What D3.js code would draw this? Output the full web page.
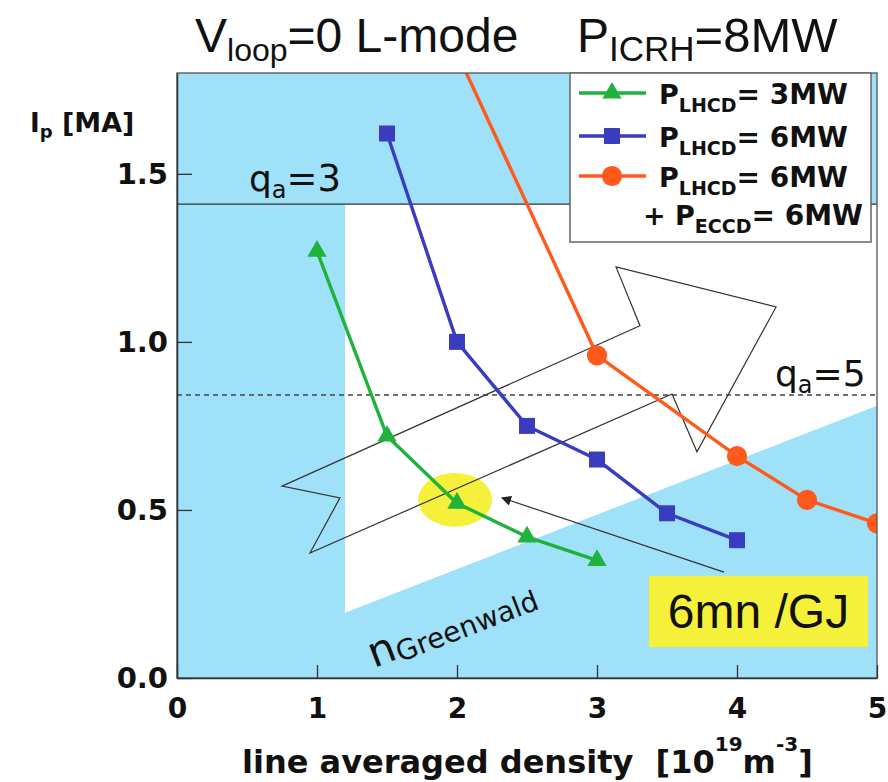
<!DOCTYPE html>
<html>
<head>
<meta charset="utf-8">
<script src="https://d3js.org/d3.v7.min.js"></script>
<style>
  body { margin: 0; background: #fff; }
  svg { display: block; }
  text { white-space: pre; }
</style>
</head>
<body>
<svg id="chart" width="888" height="782"></svg>
<script>
// data: line averaged density (1e19 m^-3) vs Ip (MA)
const lh3Density = [1, 1.5, 2, 2.5, 3];
const lh3Ip = [1.27, 0.72, 0.52, 0.42, 0.35];
const lh6Density = [1.5, 2, 2.5, 3, 3.5, 4];
const lh6Ip = [1.62, 1.0, 0.75, 0.65, 0.49, 0.41];
const ecDensity = [2, 3, 4, 4.5, 5];
const ecIp = [1.86, 0.96, 0.66, 0.53, 0.46];
const xTicks = [0, 1, 2, 3, 4, 5];
const yTicks = [0, 0.5, 1.0, 1.5];

// operating window limits
const qa3Ip = 1.41;
const qa5Ip = 0.842;
const greenwaldSlope = 0.162;   // Ip = slope * n
const windowMinDensity = 1.2;

// big outlined arrow (data units)
const arrowX = [0.75, 3.307, 3.136, 4.279, 3.714, 3.536, 0.95, 1.164];
const arrowY = [0.571, 1.048, 1.223, 1.104, 0.673, 0.845, 0.372, 0.536];

const svg = d3.select("#chart");
const pL = 177, pR = 877, pT = 73, pB = 678;
const x = d3.scaleLinear().domain([0, 5]).range([pL, pR]);
const y = d3.scaleLinear().domain([0, 1.8]).range([pB, pT]);

const sky = "#9fe1f8", yellow = "#f5f03a";
const cols = { g: "#1fb23c", b: "#3a3cc0", o: "#ff5a1c" };

svg.append("clipPath").attr("id", "plotclip")
  .append("rect").attr("x", pL).attr("y", pT)
  .attr("width", pR - pL).attr("height", pB - pT);

const plot = svg.append("g").attr("clip-path", "url(#plotclip)");

plot.append("rect").attr("x", pL).attr("y", pT)
  .attr("width", pR - pL).attr("height", pB - pT)
  .attr("fill", sky);

// allowed region (white)
const win = [[windowMinDensity, qa3Ip], [5, qa3Ip], [5, greenwaldSlope * 5],
             [windowMinDensity, greenwaldSlope * windowMinDensity]];
plot.append("path")
  .attr("d", d3.line().x(d => x(d[0])).y(d => y(d[1]))(win) + "Z")
  .attr("fill", "#fff");

// highlight ellipse
plot.append("ellipse")
  .attr("cx", x(1.986)).attr("cy", y(0.53))
  .attr("rx", x(0.264) - x(0)).attr("ry", y(0) - y(0.08))
  .attr("fill", yellow);

plot.append("line")
  .attr("x1", x(0)).attr("x2", x(5)).attr("y1", y(qa3Ip)).attr("y2", y(qa3Ip))
  .attr("stroke", "#333").attr("stroke-width", 1.3);
plot.append("line")
  .attr("x1", x(0)).attr("x2", x(5)).attr("y1", y(qa5Ip)).attr("y2", y(qa5Ip))
  .attr("stroke", "#444").attr("stroke-width", 1.3).attr("stroke-dasharray", "5,4");

plot.append("path")
  .attr("d", d3.line().x((d, i) => x(d)).y((d, i) => y(arrowY[i]))(arrowX) + "Z")
  .attr("fill", "none").attr("stroke", "#333").attr("stroke-width", 1.2);

// small pointer arrow
svg.append("defs").append("marker")
  .attr("id", "head").attr("viewBox", "0 0 10 10").attr("refX", 9).attr("refY", 5)
  .attr("markerWidth", 12).attr("markerHeight", 10).attr("markerUnits", "userSpaceOnUse")
  .attr("orient", "auto")
  .append("path").attr("d", "M0,0L10,5L0,10Z").attr("fill", "#222");
plot.append("line")
  .attr("x1", x(3.907)).attr("y1", y(0.315)).attr("x2", x(2.321)).attr("y2", y(0.536))
  .attr("stroke", "#333").attr("stroke-width", 1.2).attr("marker-end", "url(#head)");

const line = d3.line().x(d => x(d[0])).y(d => y(d[1]));
const series = [
  { xs: lh3Density, ys: lh3Ip, c: cols.g, sym: d3.symbolTriangle, size: 160 },
  { xs: lh6Density, ys: lh6Ip, c: cols.b, sym: d3.symbolSquare, size: 256 },
  { xs: ecDensity, ys: ecIp, c: cols.o, sym: d3.symbolCircle, size: 320 }
];
series.forEach(s => {
  const pts = s.xs.map((v, i) => [v, s.ys[i]]);
  plot.append("path").attr("d", line(pts))
    .attr("fill", "none").attr("stroke", s.c).attr("stroke-width", 3.4);
  plot.selectAll(null).data(pts).enter().append("path")
    .attr("transform", d => "translate(" + x(d[0]) + "," + y(d[1]) + ")")
    .attr("d", d3.symbol().type(s.sym).size(s.size))
    .attr("fill", s.c);
});

// 6mn /GJ box
plot.append("rect")
  .attr("x", x(3.371)).attr("y", y(0.304))
  .attr("width", x(4.936) - x(3.371)).attr("height", y(0.092) - y(0.304))
  .attr("fill", yellow);
svg.append("text").attr("x", (x(3.371) + x(4.936)) / 2).attr("y", y(0.198) + 17)
  .attr("text-anchor", "middle")
  .style("font", "48px 'Liberation Sans', Arial, sans-serif").attr("fill", "#111")
  .text("6mn /GJ");

// frame
svg.append("rect").attr("x", pL).attr("y", pT)
  .attr("width", pR - pL).attr("height", pB - pT)
  .attr("fill", "none").attr("stroke", "#555").attr("stroke-width", 1.3);

// axes, ticks point into the plot
const yAxis = svg.append("g").attr("transform", "translate(" + pL + ",0)")
  .call(d3.axisLeft(y).tickValues(yTicks).tickFormat(d3.format(".1f"))
    .tickSizeInner(-15).tickSizeOuter(0).tickPadding(9));
const xAxis = svg.append("g").attr("transform", "translate(0," + pB + ")")
  .call(d3.axisBottom(x).tickValues(xTicks).tickFormat(d3.format("d"))
    .tickSizeInner(-13).tickSizeOuter(0).tickPadding(20));
[xAxis, yAxis].forEach(a => {
  a.select(".domain").attr("stroke", "#333").attr("stroke-width", 1.5);
  a.selectAll(".tick line").attr("stroke", "#333").attr("stroke-width", 1.3);
  a.selectAll(".tick text").attr("fill", "#111");
});
yAxis.selectAll(".tick text").style("font", "bold 29px 'DejaVu Sans', sans-serif");
xAxis.selectAll(".tick text").style("font", "bold 28px 'DejaVu Sans', sans-serif");

const fontN = "'Liberation Sans', Arial, sans-serif";
const fontB = "'DejaVu Sans', sans-serif";

function subText(xp, yp, parts, family, weight) {
  const t = svg.append("text").attr("x", xp).attr("y", yp)
    .style("font-family", family).style("font-weight", weight || "normal").attr("fill", "#111");
  parts.forEach(p => {
    t.append("tspan").attr("dy", p.dy || 0).style("font-size", p.s + "px").text(p.t);
  });
  return t;
}
// titles
subText(195, 52, [{ t: "V", s: 48 }, { t: "loop", s: 32, dy: 9 }, { t: "=0 L-mode", s: 48, dy: -9 }], fontN);
subText(577, 52, [{ t: "P", s: 48 }, { t: "ICRH", s: 35, dy: 9 }, { t: "=8MW", s: 49, dy: -9 }], fontN);

subText(249, 191, [{ t: "q", s: 36 }, { t: "a", s: 24, dy: 7 }, { t: "=3", s: 37, dy: -7 }], fontB);
subText(775, 386, [{ t: "q", s: 36 }, { t: "a", s: 24, dy: 7 }, { t: "=5", s: 36, dy: -7 }], fontB);

subText(30, 132, [{ t: "I", s: 26 }, { t: "p", s: 18, dy: 6 }, { t: " [MA]", s: 27, dy: -6 }], fontB, "bold");

subText(242, 773, [{ t: "line averaged density  [10", s: 32 }, { t: "19", s: 20, dy: -22 },
  { t: "m", s: 32, dy: 22 }, { t: "-3", s: 20, dy: -22 }, { t: "]", s: 32, dy: 22 }], fontB, "bold");

// Greenwald label along its line
const gw = svg.append("text").attr("transform", "translate(374,668) rotate(-21)")
  .style("font-family", fontB).attr("fill", "#111");
gw.append("tspan").style("font-size", "42px").text("n");
gw.append("tspan").style("font-size", "28px").attr("dy", 4).text("Greenwald");

// legend
const lg = svg.append("g");
lg.append("rect").attr("x", 570).attr("y", 73).attr("width", 301).attr("height", 169)
  .attr("fill", "#fff").attr("stroke", "#666").attr("stroke-width", 1.5);
const legRows = [
  { c: cols.g, sym: d3.symbolTriangle, size: 160, cy: 93, label: "3MW" },
  { c: cols.b, sym: d3.symbolSquare, size: 256, cy: 136, label: "6MW" },
  { c: cols.o, sym: d3.symbolCircle, size: 320, cy: 176, label: "6MW" }
];
legRows.forEach(r => {
  lg.append("line").attr("x1", 579).attr("x2", 646).attr("y1", r.cy).attr("y2", r.cy)
    .attr("stroke", r.c).attr("stroke-width", 3.4);
  lg.append("path").attr("transform", "translate(612," + r.cy + ")")
    .attr("d", d3.symbol().type(r.sym).size(r.size)).attr("fill", r.c);
  subText(659, r.cy + 11, [{ t: "P", s: 27 }, { t: "LHCD", s: 19, dy: 8 }, { t: "= " + r.label, s: 28, dy: -8 }], fontB, "bold");
});
subText(643, 225, [{ t: "+ P", s: 27 }, { t: "ECCD", s: 19, dy: 8 }, { t: "= 6MW", s: 28, dy: -8 }], fontB, "bold");
</script>
</body>
</html>
